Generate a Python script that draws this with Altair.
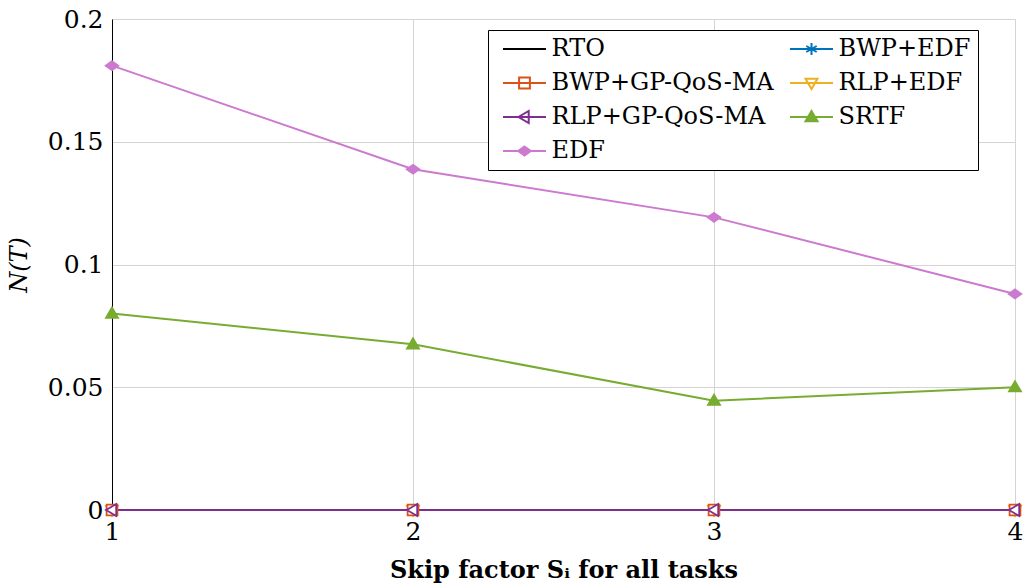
import altair as alt
import pandas as pd

# Skip factor on the x axis
skip = [1, 2, 3, 4]

# N(T) per scheduling policy
series_names = ["RTO", "BWP+EDF", "BWP+GP-QoS-MA", "RLP+EDF", "RLP+GP-QoS-MA", "SRTF", "EDF"]
rto = [0.0, 0.0, 0.0, 0.0]
bwp_edf = [0.0, 0.0, 0.0, 0.0]
bwp_gp = [0.0, 0.0, 0.0, 0.0]
rlp_edf = [0.0, 0.0, 0.0, 0.0]
rlp_gp = [0.0, 0.0, 0.0, 0.0]
srtf = [0.080, 0.0675, 0.0445, 0.050]
edf = [0.181, 0.1388, 0.1192, 0.088]

y_ticks = [0, 0.05, 0.1, 0.15, 0.2]

colors = ["#000000", "#0072BD", "#D95319", "#EDB120", "#7E2F8E", "#77AC30", "#CC7ACF"]
fills = ["#000000", "#0072BD", "#ffffff", "#ffffff", "#ffffff", "#77AC30", "#CC7ACF"]

# legend symbol box is 12 px; the line stub reaches past it on both sides
U = 6.0
STUB = 21.5 / U

markers = [
    "M0,0",
    "M0,-1V1M-0.87,-0.5L0.87,0.5M-0.87,0.5L0.87,-0.5",
    "M-0.9,-0.9H0.9V0.9H-0.9Z",
    "M-1,-0.7H1L0,1Z",
    "M0.7,-1V1L-1,0Z",
    "M-1,0.7H1L0,-1Z",
    "M0,-0.75L1.05,0L0,0.75L-1.05,0Z",
]
stub = f"M{-STUB:.3f},0H{STUB:.3f}"
legend_shapes = [stub + m if m != "M0,0" else stub for m in markers]

# legend entries fill column by column
legend_order = ["RTO", "BWP+GP-QoS-MA", "RLP+GP-QoS-MA", "EDF", "BWP+EDF", "RLP+EDF", "SRTF"]
idx = [series_names.index(n) for n in legend_order]
leg_colors = [colors[i] for i in idx]
leg_fills = [fills[i] for i in idx]
leg_shapes = [legend_shapes[i] for i in idx]

values_by_series = {
    "RTO": rto, "BWP+EDF": bwp_edf, "BWP+GP-QoS-MA": bwp_gp, "RLP+EDF": rlp_edf,
    "RLP+GP-QoS-MA": rlp_gp, "SRTF": srtf, "EDF": edf,
}
# drawing order (later on top)
draw_order = ["RTO", "BWP+EDF", "RLP+EDF", "BWP+GP-QoS-MA", "RLP+GP-QoS-MA", "SRTF", "EDF"]

rows = []
for k, name in enumerate(draw_order):
    for s, v in zip(skip, values_by_series[name]):
        rows.append({"series": name, "skip": s, "value": v, "draw": k})
df = pd.DataFrame(rows)
df_pts = df[df["series"] != "RTO"]

df_leg = pd.DataFrame({"series": legend_order, "skip": [None] * 7, "value": [None] * 7})

FONT = "DejaVu Serif"
SYM = (2 * U) ** 2
PAD = 7

x_enc = alt.X(
    "skip:Q",
    title="Skip factor Sᵢ for all tasks",
    scale=alt.Scale(domain=[1, 4], nice=False, zero=False),
    axis=alt.Axis(values=skip, format="d", labelFlush=False, labelOverlap=False),
)
y_enc = alt.Y(
    "value:Q",
    title="N(T)",
    scale=alt.Scale(domain=[0, 0.2], nice=False),
    axis=alt.Axis(values=y_ticks, format="~g", labelOverlap=False),
)

leg = alt.Legend(
    title=None,
    orient="none",
    legendX=376,
    legendY=11,
    columns=2,
    symbolSize=SYM,
    symbolStrokeWidth=2,
    symbolOffset=21.5 - U + 9 - PAD,
    labelFont=FONT,
    labelFontSize=24,
    labelColor="black",
    labelOffset=15,
    rowPadding=10,
    columnPadding=8,
    padding=PAD,
    strokeColor="black",
    fillColor="white",
    cornerRadius=0,
    labelLimit=400,
)

lines = alt.Chart(df).mark_line(strokeWidth=2).encode(
    x=x_enc,
    y=y_enc,
    stroke=alt.Stroke("series:N", scale=alt.Scale(domain=series_names, range=colors), legend=None),
    detail="series:N",
)

points = alt.Chart(df_pts).mark_point(size=SYM, opacity=1, strokeWidth=1.8).encode(
    x=x_enc,
    y=y_enc,
    stroke=alt.Stroke("series:N", scale=alt.Scale(domain=series_names, range=colors), legend=None),
    fill=alt.Fill("series:N", scale=alt.Scale(domain=series_names, range=fills), legend=None),
    shape=alt.Shape("series:N", scale=alt.Scale(domain=series_names, range=markers), legend=None),
    order=alt.Order("draw:Q"),
)

legend_layer = alt.Chart(df_leg).mark_point(size=SYM, opacity=1, strokeWidth=2).encode(
    x=x_enc,
    y=y_enc,
    stroke=alt.Stroke("series:N", scale=alt.Scale(domain=legend_order, range=leg_colors), legend=leg),
    fill=alt.Fill("series:N", scale=alt.Scale(domain=legend_order, range=leg_fills), legend=leg),
    shape=alt.Shape("series:N", scale=alt.Scale(domain=legend_order, range=leg_shapes), legend=leg),
)

chart = (
    alt.layer(lines, points, legend_layer)
    .resolve_scale(stroke="independent", fill="independent", shape="independent")
    .properties(
        width=903,
        height=491,
        autosize=alt.AutoSizeParams(type="none"),
        padding={"left": 112, "top": 19, "right": 8, "bottom": 74},
        background="white",
    )
    .configure_view(stroke=None)
    .configure_axis(
        labelFont=FONT,
        labelFontSize=25,
        labelColor="black",
        titleFont=FONT,
        titleColor="black",
        grid=True,
        gridColor="#d4d4d4",
        gridWidth=1,
        domainColor="black",
        domainWidth=1,
        ticks=False,
        labelPadding=9,
    )
    .configure_axisX(titleFontSize=24, titleFontWeight="bold", titlePadding=14)
    .configure_axisY(titleFontSize=24, titleFontStyle="italic", titleFontWeight="normal", titlePadding=16)
)

chart.save("out.html", embed_options={"renderer": "svg", "actions": False})
